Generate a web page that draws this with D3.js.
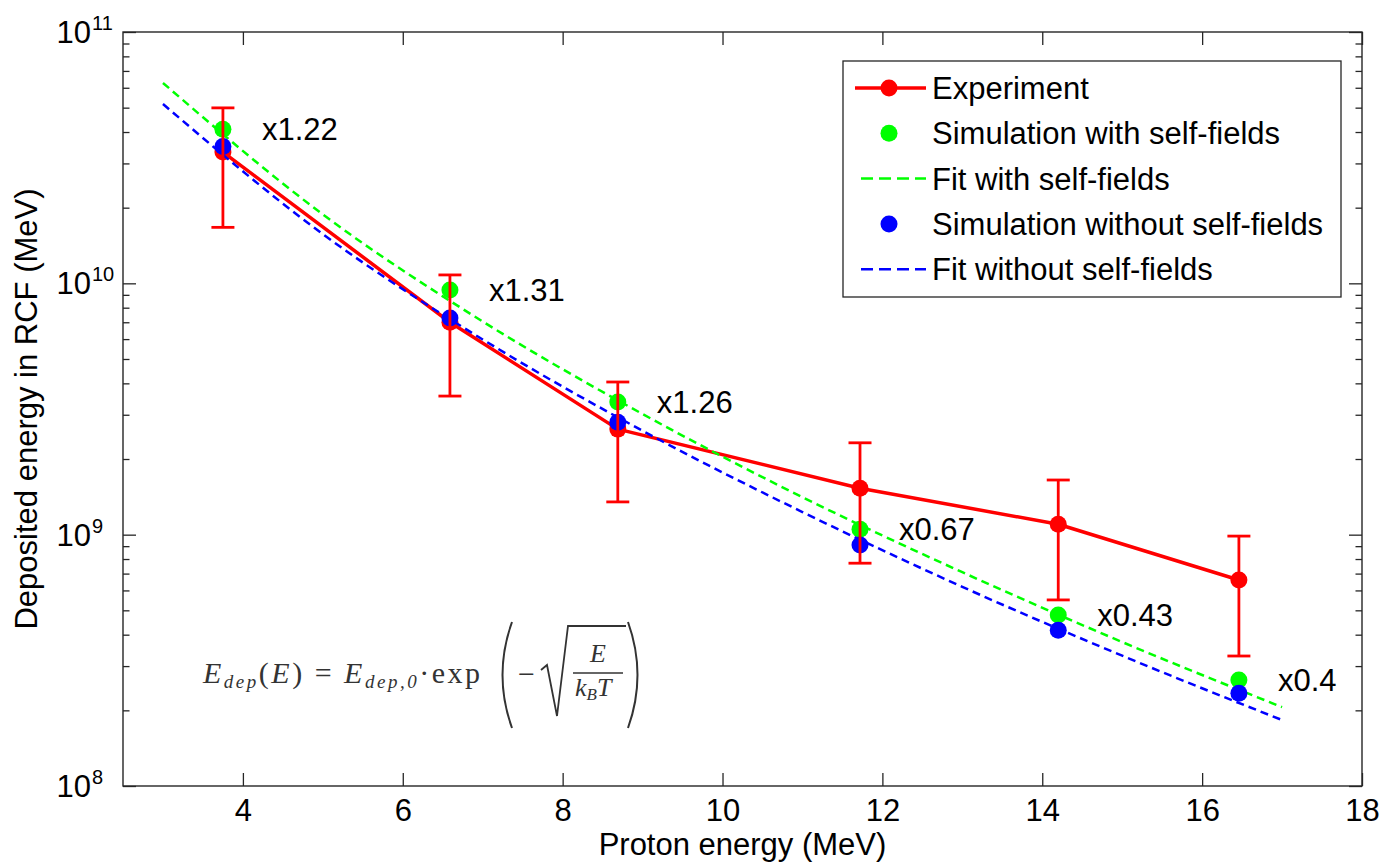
<!DOCTYPE html>
<html>
<head>
<meta charset="utf-8">
<script src="https://cdn.jsdelivr.net/npm/d3@7"></script>
<style>
  body { margin: 0; background: #fff; }
  svg text { font-family: "Liberation Sans", Arial, Helvetica, sans-serif; fill: #000; }
</style>
</head>
<body>
<svg id="chart" width="1382" height="866"></svg>
<script>

// ---------------- data ----------------
var xTicks = [4, 6, 8, 10, 12, 14, 16, 18];
var yMajor = [1e8, 1e9, 1e10, 1e11];
var yExp = [8, 9, 10, 11];

// proton energy of the RCF layers (MeV)
var energy = [3.75, 6.59, 8.69, 11.72, 14.2, 16.46];

// experiment with error bars
var expDep = [3.33e10, 7.0e9, 2.63e9, 1.53e9, 1.10e9, 6.6e8];
var expHi  = [4.99e10, 1.08e10, 4.05e9, 2.32e9, 1.65e9, 9.87e8];
var expLo  = [1.67e10, 3.56e9, 1.35e9, 7.7e8, 5.5e8, 3.29e8];

// simulations
var simWith    = [4.1e10, 9.4e9, 3.37e9, 1.05e9, 4.79e8, 2.64e8];
var simWithout = [3.5e10, 7.28e9, 2.8e9, 9.1e8, 4.17e8, 2.34e8];

// ratio labels next to the points
var ratioLabels = ["x1.22", "x1.31", "x1.26", "x0.67", "x0.43", "x0.4"];

// fit curves, sampled along the picture
var fitE          = [3, 5, 7, 9, 11, 13, 15, 17];
var fitWith       = [6.27e10, 1.88e10, 7.05e9, 3.02e9, 1.41e9, 7.09e8, 3.74e8, 2.06e8];
var fitWithout    = [5.17e10, 1.57e10, 5.98e9, 2.59e9, 1.23e9, 6.20e8, 3.30e8, 1.83e8];

var legendItems = [
	{"label":"Experiment", "color":"#ff0000", "line":"solid", "marker":true},
	{"label":"Simulation with self-fields", "color":"#00ff00", "line":"none", "marker":true},
	{"label":"Fit with self-fields", "color":"#00ff00", "line":"dash", "marker":false},
	{"label":"Simulation without self-fields", "color":"#0000ff", "line":"none", "marker":true},
	{"label":"Fit without self-fields", "color":"#0000ff", "line":"dash", "marker":false}
];

// ---------------- layout ----------------
var LEFT = 123, RIGHT = 1362, TOP = 32, BOTTOM = 786;
var FONT = 31;
var MARKER_R = 8.5;
var AXIS_COLOR = "#262626";

var svg = d3.select("#chart");

var x = d3.scaleLinear().domain([2.5, 18]).range([LEFT, RIGHT]);
var y = d3.scaleLog().domain([1e8, 1e11]).range([BOTTOM, TOP]);

// minor ticks of the log axis
var yMinor = y.ticks().filter(function(v){ return yMajor.indexOf(v) < 0; });

// ---------------- axes ----------------
var gAxes = svg.append("g").attr("id","axes");

// plot box
gAxes.append("rect")
	.attr("x",LEFT).attr("y",TOP)
	.attr("width",RIGHT-LEFT).attr("height",BOTTOM-TOP)
	.attr("fill","none")
	.attr("stroke",AXIS_COLOR)
	.attr("stroke-width",1.4);

function _styleAxis(g){
	g.select(".domain").remove();
	g.selectAll(".tick line").attr("stroke",AXIS_COLOR).attr("stroke-width",1.3);
}

gAxes.append("g")
	.attr("transform","translate(0,"+BOTTOM+")")
	.call(d3.axisBottom(x).tickValues(xTicks).tickSizeInner(-13).tickSizeOuter(0).tickPadding(13))
	.call(_styleAxis)
	.selectAll("text")
		.style("font-size",FONT+"px")
		.style("font-family","'Liberation Sans', Arial, sans-serif")
		.attr("fill","#000");

gAxes.append("g")
	.attr("transform","translate(0,"+TOP+")")
	.call(d3.axisTop(x).tickValues(xTicks).tickSizeInner(-13).tickSizeOuter(0).tickFormat(""))
	.call(_styleAxis);

[[LEFT, d3.axisLeft], [RIGHT, d3.axisRight]].forEach(function(a){
	gAxes.append("g")
		.attr("transform","translate("+a[0]+",0)")
		.call(a[1](y).tickValues(yMajor).tickSizeInner(-13).tickSizeOuter(0).tickFormat(""))
		.call(_styleAxis);
	gAxes.append("g")
		.attr("transform","translate("+a[0]+",0)")
		.call(a[1](y).tickValues(yMinor).tickSizeInner(-6.5).tickSizeOuter(0).tickFormat(""))
		.call(_styleAxis);
});

// y tick labels as 10^n
yMajor.forEach(function(v,i){
	var _ty = y(v);
	gAxes.append("text")
		.attr("x",91).attr("y",_ty+11)
		.attr("text-anchor","end")
		.style("font-size",FONT+"px")
		.text("10");
	gAxes.append("text")
		.attr("x",92).attr("y",_ty-2)
		.style("font-size","20px")
		.text(yExp[i]);
});

// axis titles
gAxes.append("text")
	.attr("x",(LEFT+RIGHT)/2).attr("y",855)
	.attr("text-anchor","middle")
	.style("font-size",FONT+"px")
	.text("Proton energy (MeV)");

gAxes.append("text")
	.attr("transform","translate(37,"+((TOP+BOTTOM)/2)+") rotate(-90)")
	.attr("text-anchor","middle")
	.style("font-size",FONT+"px")
	.text("Deposited energy in RCF (MeV)");

// ---------------- series ----------------
var gData = svg.append("g").attr("id","series");

var line = d3.line()
	.x(function(d){ return x(d[0]); })
	.y(function(d){ return y(d[1]); });

var fitLine = d3.line()
	.curve(d3.curveMonotoneX)
	.x(function(d){ return x(d[0]); })
	.y(function(d){ return y(d[1]); });

// experiment
gData.append("path")
	.datum(d3.zip(energy, expDep))
	.attr("d",line)
	.attr("fill","none")
	.attr("stroke","#ff0000")
	.attr("stroke-width",3.5)
	.attr("stroke-linejoin","round");

gData.selectAll("circle.exp")
	.data(d3.zip(energy, expDep))
	.enter().append("circle")
	.attr("class","exp")
	.attr("cx",function(d){ return x(d[0]); })
	.attr("cy",function(d){ return y(d[1]); })
	.attr("r",MARKER_R)
	.attr("fill","#ff0000");

function _drawSim(values, fitValues, color){
	gData.selectAll(null)
		.data(d3.zip(energy, values))
		.enter().append("circle")
		.attr("cx",function(d){ return x(d[0]); })
		.attr("cy",function(d){ return y(d[1]); })
		.attr("r",MARKER_R)
		.attr("fill",color);

	gData.append("path")
		.datum(d3.zip(fitE, fitValues))
		.attr("d",fitLine)
		.attr("fill","none")
		.attr("stroke",color)
		.attr("stroke-width",2.5)
		.attr("stroke-dasharray","8,5");
}
_drawSim(simWith, fitWith, "#00ff00");
_drawSim(simWithout, fitWithout, "#0000ff");

// error bars on top
var gErr = gData.append("g").attr("id","errorbars")
	.attr("stroke","#ff0000").attr("stroke-width",2.8);

energy.forEach(function(e,i){
	var _x = x(e);
	gErr.append("line").attr("x1",_x).attr("x2",_x).attr("y1",y(expHi[i])).attr("y2",y(expLo[i]));
	gErr.append("line").attr("x1",_x-11.5).attr("x2",_x+11.5).attr("y1",y(expHi[i])).attr("y2",y(expHi[i]));
	gErr.append("line").attr("x1",_x-11.5).attr("x2",_x+11.5).attr("y1",y(expLo[i])).attr("y2",y(expLo[i]));
});

// ratio labels, placed relative to the green point
gData.selectAll("text.ratio")
	.data(ratioLabels)
	.enter().append("text")
	.attr("class","ratio")
	.attr("x",function(d,i){ return x(energy[i])+39; })
	.attr("y",function(d,i){ return y(simWith[i])+11; })
	.style("font-size",FONT+"px")
	.text(function(d){ return d; });

// ---------------- legend ----------------
var gLegend = svg.append("g").attr("id","legend");

gLegend.append("rect")
	.attr("x",843).attr("y",61)
	.attr("width",498).attr("height",236)
	.attr("fill","#fff")
	.attr("stroke",AXIS_COLOR)
	.attr("stroke-width",1.3);

legendItems.forEach(function(d,i){
	var _cy = 88 + i*45.3;
	if (d.line=="solid"){
		gLegend.append("line").attr("x1",855).attr("x2",926).attr("y1",_cy).attr("y2",_cy)
			.attr("stroke",d.color).attr("stroke-width",3.5);
	}
	if (d.line=="dash"){
		gLegend.append("line").attr("x1",861).attr("x2",926).attr("y1",_cy).attr("y2",_cy)
			.attr("stroke",d.color).attr("stroke-width",2.5).attr("stroke-dasharray","12,6");
	}
	if (d.marker){
		gLegend.append("circle").attr("cx",889).attr("cy",_cy).attr("r",MARKER_R).attr("fill",d.color);
	}
	gLegend.append("text")
		.attr("x",932).attr("y",_cy+11)
		.style("font-size",FONT+"px")
		.text(d.label);
});

// ---------------- formula ----------------
var gEq = svg.append("g").attr("id","formula").attr("fill","#333").attr("stroke","none");
var SERIF = "'Liberation Serif', 'DejaVu Serif', serif";

var eq = gEq.append("text")
	.attr("x",203).attr("y",683)
	.attr("textLength",277)
	.attr("lengthAdjust","spacing")
	.style("font-family",SERIF)
	.style("font-size","30px")
	.style("fill","#333");
eq.append("tspan").style("font-style","italic").text("E");
eq.append("tspan").attr("dy",5).style("font-style","italic").style("font-size","19px").text("dep");
eq.append("tspan").attr("dy",-5).text("(");
eq.append("tspan").style("font-style","italic").text("E");
eq.append("tspan").text(") = ");
eq.append("tspan").style("font-style","italic").text("E");
eq.append("tspan").attr("dy",5).style("font-style","italic").style("font-size","19px").text("dep,0");
eq.append("tspan").attr("dy",-5).text("\u00b7exp");

gEq.append("path").attr("d","M512,622 Q493,675 512,728").attr("fill","none").attr("stroke","#333").attr("stroke-width",2);
gEq.append("path").attr("d","M628,622 Q647,675 628,728").attr("fill","none").attr("stroke","#333").attr("stroke-width",2);

gEq.append("text").attr("x",518).attr("y",684)
	.style("font-family",SERIF).style("font-size","30px").style("fill","#333").text("\u2212");

gEq.append("path").attr("d","M541,670 L547,665 L557,716 L568,626 L626,626")
	.attr("fill","none").attr("stroke","#333").attr("stroke-width",1.8);

gEq.append("text").attr("x",598).attr("y",662).attr("text-anchor","middle")
	.style("font-family",SERIF).style("font-size","26px").style("font-style","italic").style("fill","#333").text("E");
gEq.append("line").attr("x1",573).attr("x2",623).attr("y1",673).attr("y2",673)
	.attr("stroke","#333").attr("stroke-width",1.6);
var den = gEq.append("text").attr("x",575).attr("y",696)
	.style("font-family",SERIF).style("font-size","26px").style("font-style","italic").style("fill","#333");
den.append("tspan").text("k");
den.append("tspan").attr("dy",4).style("font-size","17px").text("B");
den.append("tspan").attr("dy",-4).text("T");

</script>
</body>
</html>
